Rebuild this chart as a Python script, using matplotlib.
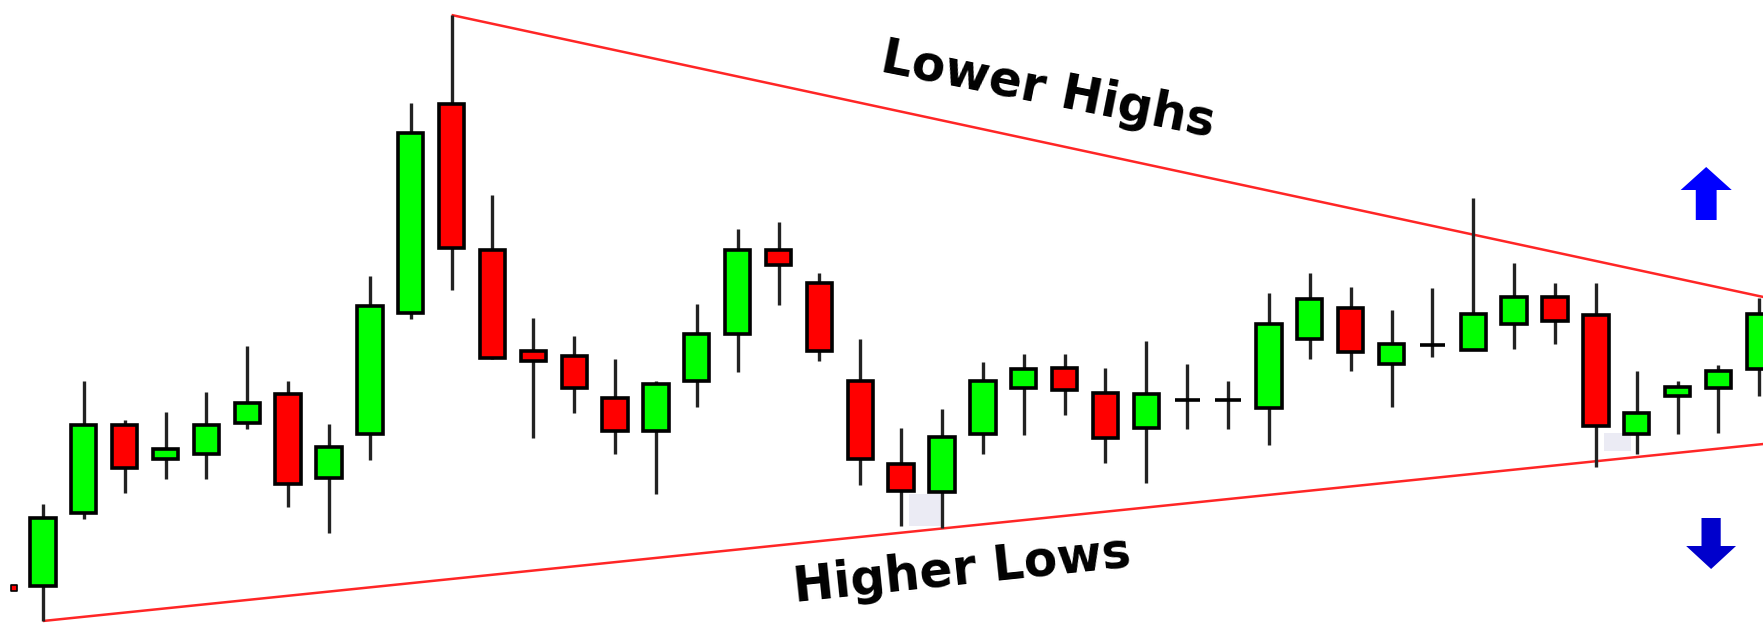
import matplotlib
matplotlib.use("Agg")
import matplotlib.pyplot as plt
from matplotlib.patches import Rectangle, FancyArrow

# Candle data (open, high, low, close), one entry per bar
opens = [37, 110, 198, 164, 169, 200, 229, 145, 189, 310, 519, 373, 272, 267, 225,
         192, 242, 289, 373, 340, 242, 159, 131, 189, 235, 255, 230, 195, 223, 223,
         215, 284, 315, 259, 278, 273, 299, 326, 308, 189, 227, 235, 254]
highs = [119, 242, 203, 211, 231, 277, 242, 199, 347, 520, 608, 428, 305, 287, 264,
         242, 319, 394, 401, 350, 284, 195, 214, 261, 269, 269, 255, 282, 259, 242,
         330, 350, 336, 313, 335, 425, 360, 340, 340, 252, 242, 258, 325]
lows = [2, 104, 130, 144, 144, 194, 116, 90, 163, 304, 333, 264, 185, 210, 169,
        129, 216, 251, 318, 262, 138, 97, 95, 169, 188, 208, 160, 140, 194, 194,
        178, 264, 252, 216, 266, 273, 274, 279, 156, 169, 189, 190, 227]
closes = [105, 198, 155, 174, 198, 220, 139, 176, 317, 490, 375, 265, 262, 235, 192,
          239, 289, 373, 358, 272, 164, 132, 186, 242, 254, 233, 185, 229, 223, 223,
          299, 324, 271, 279, 278, 309, 326, 302, 197, 210, 236, 252, 309]

# Trend lines (bar index, price)
upper_x = [10, 42.1]
upper_y = [608, 326]
lower_x = [0, 42.1]
lower_y = [2, 179]

# Faint shaded gaps (x from, x to, price low, price high)
shades = [(21.2, 22.0, 97, 129), (38.2, 38.85, 172, 190)]

# Labels and breakout arrows
labels = [("Lower Highs", 24.6, 533, -11.2), ("Higher Lows", 22.5, 53, 6.0)]
arrow_up = (40.70, 403, 456)     # x, tail, tip
arrow_down = (40.82, 105, 54)

BODY_W = 0.62

# Create the figure with one axes filling it
fig = plt.figure(figsize=(17.63, 6.23), dpi=100)
ax = fig.add_axes([0, 0, 1, 1])
ax.set_xlim(-1.05, 42.09)
ax.set_ylim(0, 623)
ax.axis("off")

# Shaded gaps
for x0, x1, y0, y1 in shades:
    ax.add_patch(Rectangle((x0, y0), x1 - x0, y1 - y0, facecolor="#ebebf4",
                           edgecolor="none", zorder=1))

# Trend lines
ax.plot(upper_x, upper_y, color="#ff2626", lw=1.8, zorder=2, solid_capstyle="butt")
ax.plot(lower_x, lower_y, color="#ff2626", lw=1.8, zorder=2, solid_capstyle="butt")

# Candles
for i, (o, h, l, c) in enumerate(zip(opens, highs, lows, closes)):
    ax.vlines(i, l, h, color="#222222", lw=2.4, zorder=3)
    face = "#00ff00" if c >= o else "#ff0000"
    ax.add_patch(Rectangle((i - BODY_W / 2, min(o, c)), BODY_W, abs(c - o),
                           facecolor=face, edgecolor="black", lw=2.6, zorder=4))

# Small marker at the far left
ax.scatter([-0.7], [35], marker="s", s=22, facecolor="#ff0000", edgecolor="black",
           lw=1.2, zorder=5)

# Text labels
for txt, x, y, rot in labels:
    ax.text(x, y, txt, rotation=rot, rotation_mode="anchor", ha="center", va="center",
            fontsize=35, fontweight="bold", color="black", zorder=6)

# Arrows
x, y0, y1 = arrow_up
ax.add_patch(FancyArrow(x, y0, 0, y1 - y0, width=0.51, head_width=1.25, head_length=23,
                        length_includes_head=True, color="#0000ff", lw=0, zorder=6))
x, y0, y1 = arrow_down
ax.add_patch(FancyArrow(x, y0, 0, y1 - y0, width=0.47, head_width=1.22, head_length=23,
                        length_includes_head=True, color="#0000cc", lw=0, zorder=6))

# Save the figure
plt.savefig("out.png", dpi=100)
plt.close(fig)
